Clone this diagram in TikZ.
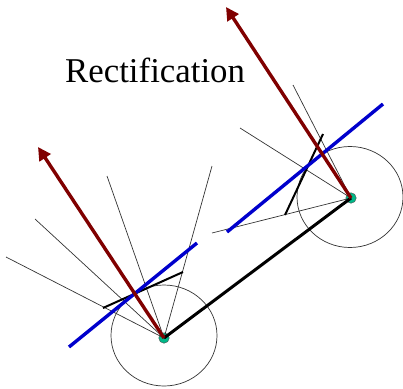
\documentclass[tikz,border=0pt]{standalone}
\usepackage{fontspec}
\setmainfont{Liberation Serif}
\usetikzlibrary{arrows.meta}
\definecolor{rayred}{RGB}{128,0,0}
\definecolor{planeblue}{RGB}{0,0,204}
\definecolor{dotgreen}{RGB}{0,184,136}
\tikzset{
    ray/.style={draw=black!80,line width=0.7pt},
    imgline/.style={draw=black,line width=2pt},
    rectline/.style={draw=planeblue,line width=3.4pt},
    normalvec/.style={draw=rayred,line width=3.4pt,-{Triangle[length=13pt,width=13pt]}},
    camdot/.style={circle,draw=black!70,line width=0.4pt,fill=dotgreen,inner sep=0pt,minimum size=10.5pt},
}

\begin{document}
\begin{tikzpicture}[x=1pt,y=-1pt]
    % page frame, one unit is one pixel of the picture
    \useasboundingbox (0,0) rectangle (403,388);

    \node (Ol) [camdot] at (164,338) {};
    \node (Or) [camdot] at (351,198) {};

    % circles round the two centres
    \draw[ray] (164,335.5) ellipse (53 and 50.5);
    \draw[ray] (350,197) ellipse (53 and 50.5);

    % left camera
    \coordinate (L1) at (6,257);
    \coordinate (L2) at (35,219);
    \coordinate (L3) at (107,176);
    \coordinate (L4) at (212,166);
    \coordinate (La) at (103,308);
    \coordinate (Lb) at (183,272);
    \coordinate (Lc) at (69,347);
    \coordinate (Ld) at (197,243);
    \coordinate (Ln) at (38,147);

    % right camera
    \coordinate (R1) at (240,128);
    \coordinate (R2) at (293,85);
    \coordinate (R3) at (212,233);
    \coordinate (Ra) at (285,215);
    \coordinate (Rb) at (323,134);
    \coordinate (Rc) at (227,232);
    \coordinate (Rd) at (383,104);
    \coordinate (Rn) at (226,7);

    \foreach \p in {L1,L2,L3,L4} \draw[ray] (Ol.center) -- (\p);
    \foreach \p in {R1,R2,R3} \draw[ray] (Or.center) -- (\p);

    \draw[imgline] (La) -- (Lb);
    \draw[imgline] (Ra) -- (Rb);
    \draw[imgline,line width=3pt] (Ol.center) -- (Or.center);

    \draw[rectline] (Lc) -- (Ld);
    \draw[rectline] (Rc) -- (Rd);

    \draw[normalvec] (Ol.center) -- (Ln);
    \draw[normalvec] (Or.center) -- (Rn);

    \node (title) [anchor=base west,inner sep=0pt,font=\fontsize{34.8}{35}\selectfont] at (65,82) {Rectification};
\end{tikzpicture}
\end{document}
